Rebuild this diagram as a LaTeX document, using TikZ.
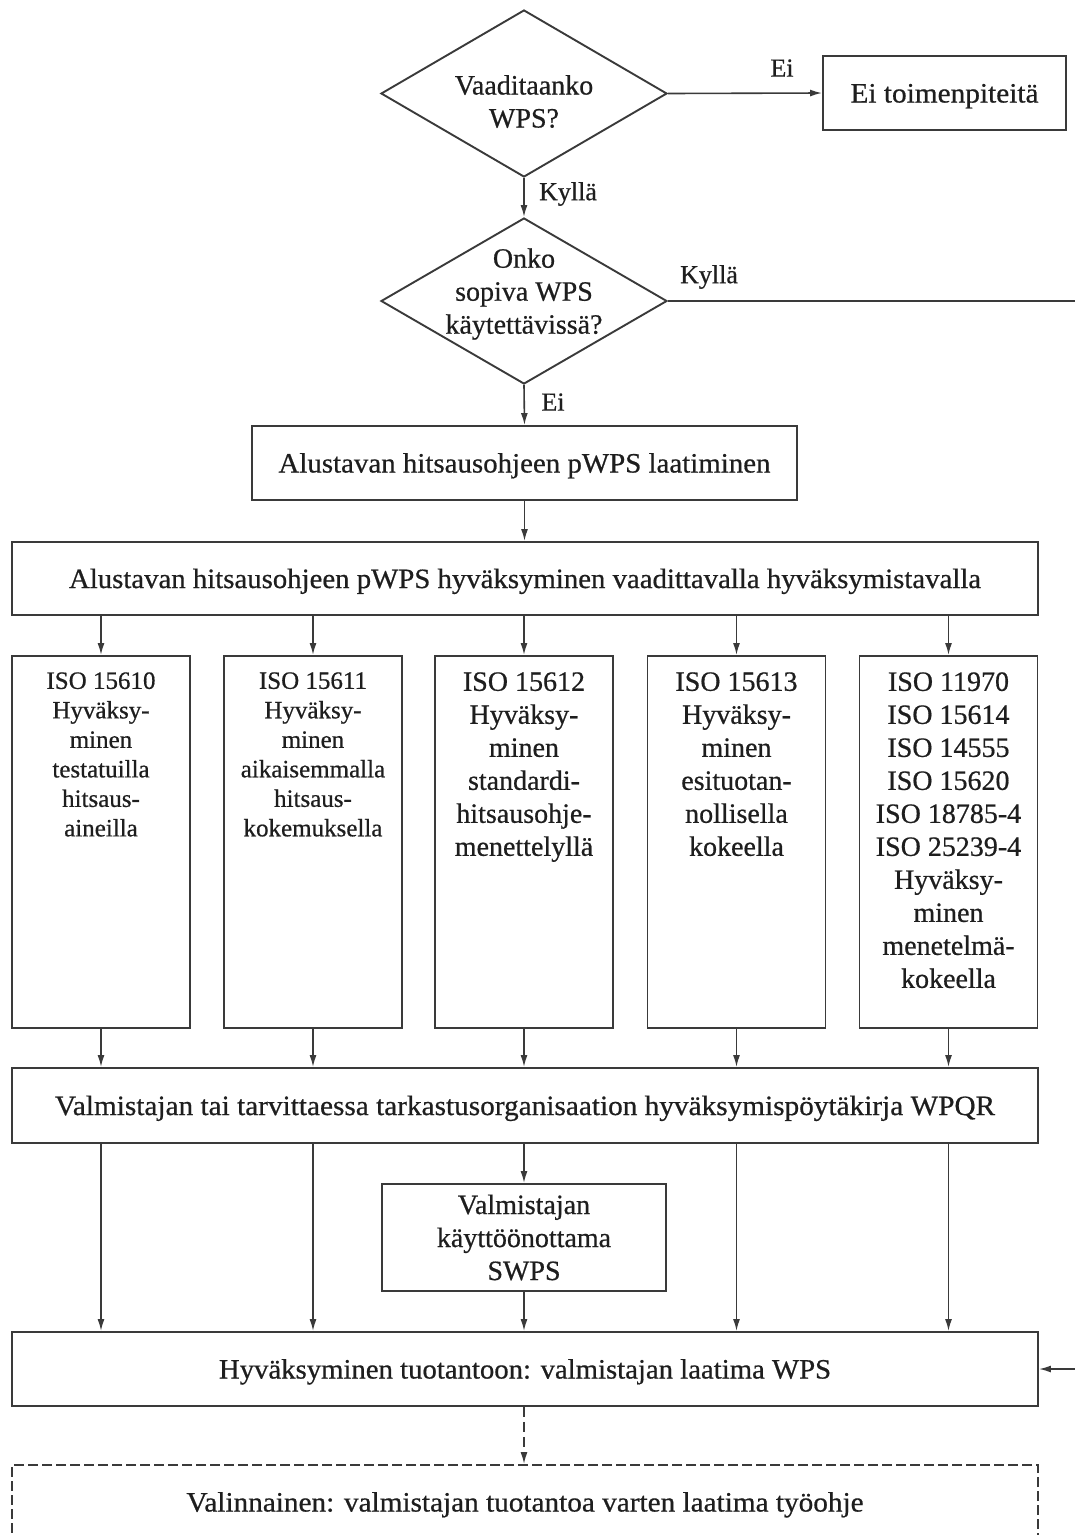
\documentclass[tikz,border=0pt]{standalone}
\usepackage{fontspec}
\setmainfont{Liberation Serif}[FakeBold=0.6]
\usepackage{graphicx}
\usetikzlibrary{shapes.geometric,arrows.meta}
\definecolor{linec}{HTML}{3A3A3A}
\definecolor{textc}{HTML}{1E1E1E}
\newcommand{\fitw}[2]{\resizebox{#1}{\height}{#2}}
\begin{document}
\begin{tikzpicture}[x=1pt,y=-1pt,
  box/.style={draw=linec, line width=1.9pt, rectangle, inner sep=0pt, text=textc,
    font=\fontsize{28}{33}\selectfont, align=center},
  onel/.style={text height=22pt, text depth=3pt},
  dbox/.style={box, dash pattern=on 10pt off 4pt},
  dia/.style={draw=linec, line width=1.9pt, diamond, inner sep=0pt},
  arr/.style={draw=linec, line width=1.6pt, -{Latex[length=12pt,width=7pt]}},
  txt/.style={text=textc, inner sep=0pt, align=center, font=\fontsize{28}{33}\selectfont},
  stxt/.style={txt, font=\fontsize{25}{29.5}\selectfont},
  lbl/.style={text=textc, inner sep=0pt, font=\fontsize{26}{30}\selectfont},
]
\useasboundingbox (0,0) rectangle (1075,1535);
\clip (0,0) rectangle (1075,1535);

% decisions
\node[dia, minimum width=286pt, minimum height=167pt] (d1) at (524,93.5) {};
\node[txt] (d1t) at (524,101.5) {Vaaditaanko\\WPS?};
\node[dia, minimum width=286pt, minimum height=166pt] (d2) at (524,301) {};
\node[txt] (d2t) at (524,294) {Onko\\sopiva WPS\\käytettävissä?};

% boxes
\node[box, onel, minimum width=243pt, minimum height=74pt] (ei) at (944.5,93) {\fitw{188pt}{Ei toimenpiteitä}};
\node[box, onel, minimum width=545pt, minimum height=74pt] (pw) at (524.5,463) {\fitw{492pt}{Alustavan hitsausohjeen pWPS laatiminen}};
\node[box, onel, minimum width=1026pt, minimum height=73pt] (hyv) at (525,578.5) {\fitw{912pt}{Alustavan hitsausohjeen pWPS hyväksyminen vaadittavalla hyväksymistavalla}};

\foreach \n/\x in {c1/101, c2/313, c3/524, c4/736.5, c5/948.5}
  \node[box, minimum width=178pt, minimum height=372pt] (\n) at (\x,842) {};

\node[stxt, anchor=north] (t1) at ([yshift=-17pt]c1.north) {ISO 15610\\Hyväksy-\\minen\\testatuilla\\hitsaus-\\aineilla};
\node[stxt, anchor=north] (t2) at ([yshift=-17pt]c2.north) {ISO 15611\\Hyväksy-\\minen\\aikaisemmalla\\hitsaus-\\kokemuksella};
\node[txt, anchor=north] (t3) at ([yshift=-17pt]c3.north) {ISO 15612\\Hyväksy-\\minen\\standardi-\\hitsausohje-\\menettelyllä};
\node[txt, anchor=north] (t4) at ([yshift=-17pt]c4.north) {ISO 15613\\Hyväksy-\\minen\\esituotan-\\nollisella\\kokeella};
\node[txt, anchor=north] (t5) at ([yshift=-17pt]c5.north) {ISO 11970\\ISO 15614\\ISO 14555\\ISO 15620\\ISO 18785-4\\ISO 25239-4\\Hyväksy-\\minen\\menetelmä-\\kokeella};

\node[box, onel, minimum width=1026pt, minimum height=75pt] (wpqr) at (525,1105.5) {\fitw{940pt}{Valmistajan tai tarvittaessa tarkastusorganisaation hyväksymispöytäkirja WPQR}};
\node[box, minimum width=284pt, minimum height=107pt] (swps) at (524,1237.5) {Valmistajan\\käyttöönottama\\SWPS};
\node[box, onel, minimum width=1026pt, minimum height=74pt] (prod) at (525,1369) {\fitw{612pt}{Hyväksyminen tuotantoon: valmistajan laatima WPS}};
\node[dbox, onel, minimum width=1026pt, minimum height=74pt] (opt) at (525,1502) {\fitw{677pt}{Valinnainen: valmistajan tuotantoa varten laatima työohje}};

% connectors
\draw[arr] (d1.east) -- (ei.west);
\node[lbl] (l1) at (782,68) {Ei};
\draw[arr] (d1.south) -- (d2.north);
\node[lbl] (l2) at (568,194) {Kyllä};
\coordinate (rc) at (1090,301);
\draw[arr] (d2.east) -- (rc) -- (rc |- prod.east) -- (prod.east);
\node[lbl] (l3) at (709,277) {Kyllä};
\draw[arr] (d2.south) -- (pw.north);
\node[lbl] (l4) at (553,402) {Ei};
\draw[arr] (pw.south) -- (pw.south |- hyv.north);

\foreach \n in {c1,c2,c3,c4,c5}{
  \draw[arr] (hyv.south -| \n.north) -- (\n.north);
  \draw[arr] (\n.south) -- (\n.south |- wpqr.north);
}
\foreach \n in {c1,c2,c4,c5}
  \draw[arr] (wpqr.south -| \n.south) -- (prod.north -| \n.south);
\draw[arr] (wpqr.south -| swps.north) -- (swps.north);
\draw[arr] (swps.south) -- (prod.north -| swps.south);
\draw[arr, dash pattern=on 10pt off 5pt] (prod.south -| swps.south) -- (opt.north -| swps.south);
\end{tikzpicture}
\end{document}
